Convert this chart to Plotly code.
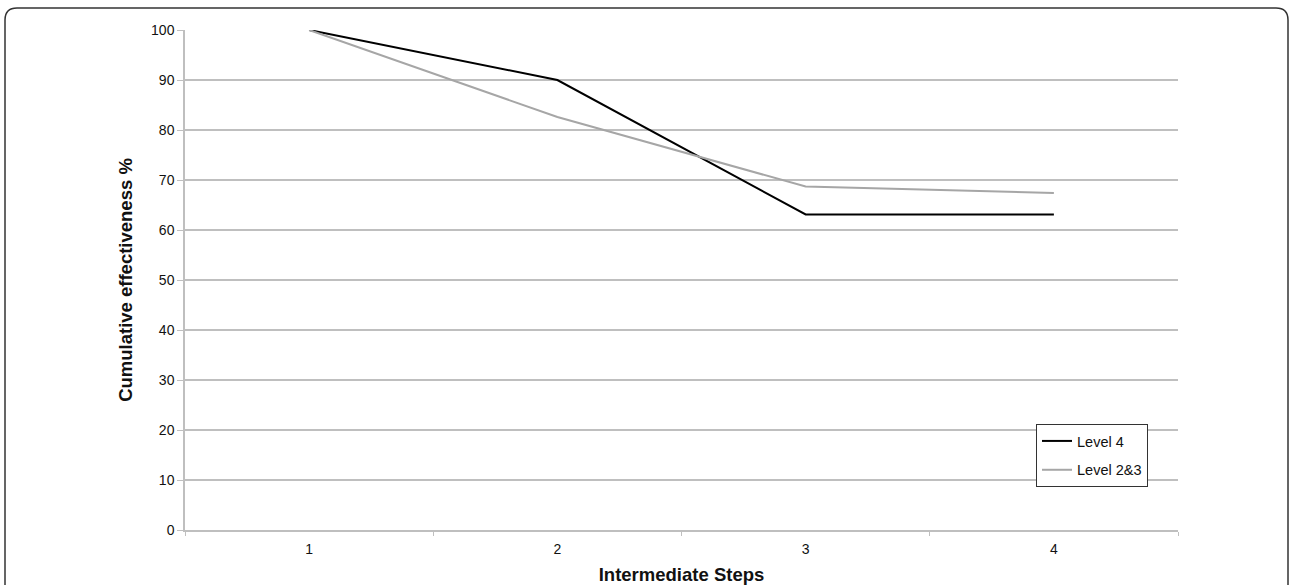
import plotly.graph_objects as go

steps = ["1", "2", "3", "4"]
level4 = [100, 90, 63.1, 63.1]
level23 = [100, 82.6, 68.7, 67.4]
y_ticks = [0, 10, 20, 30, 40, 50, 60, 70, 80, 90, 100]

W, H = 1290, 585
L, R, T, B = 185, 112, 30, 55
pw, ph = W - L - R, H - T - B

def px(x):
    return (x - L) / pw

def py(y):
    return (H - B - y) / ph

fig = go.Figure()
fig.add_trace(go.Scatter(x=steps, y=level4, mode="lines", name="Level 4", legendgroup="a",
                         line=dict(color="#000000", width=2)))
fig.add_trace(go.Scatter(x=steps, y=level23, mode="lines", name="Level 2&3", legendgroup="b",
                         line=dict(color="#a6a6a6", width=2)))

# rounded outer frame (cut off at right and bottom)
r = 12
path = (f"M {px(5)} {py(600)} L {px(5)} {py(8+r)} Q {px(5)} {py(8)} {px(5+r)} {py(8)} "
        f"L {px(1288-r)} {py(8)} Q {px(1288)} {py(8)} {px(1288)} {py(8+r)} L {px(1288)} {py(600)}")
fig.add_shape(type="path", path=path, xref="paper", yref="paper",
              line=dict(color="#333333", width=1.5), layer="above")

fig.update_layout(
    width=W, height=H,
    margin=dict(l=L, r=R, t=T, b=B),
    paper_bgcolor="white", plot_bgcolor="white",
    font=dict(family="Liberation Sans, Arial, sans-serif", size=14, color="#111111"),
    showlegend=True,
    legend=dict(x=px(1036), y=py(424), xanchor="left", yanchor="top",
                bgcolor="white", bordercolor="#333333", borderwidth=1,
                font=dict(size=14.5, color="#111111"), itemwidth=30,
                traceorder="grouped", tracegroupgap=7),
    xaxis=dict(type="category", categoryorder="array", categoryarray=steps,
               range=[-0.5, 3.5], tickson="boundaries", ticks="outside", ticklen=4,
               tickcolor="#bfbfbf", showline=True, linecolor="#bfbfbf", linewidth=1.5,
               showgrid=False, zeroline=False, ticklabelstandoff=5, automargin=False,
               title=dict(text="<b>Intermediate Steps</b>", font=dict(size=18.5, color="#111111"),
                          standoff=16)),
    yaxis=dict(range=[0, 100], tickvals=y_ticks, ticks="outside", ticklen=6,
               tickcolor="#bfbfbf", showline=True, linecolor="#bfbfbf", linewidth=1.5,
               showgrid=True, gridcolor="#bfbfbf", gridwidth=1.5, zeroline=False,
               automargin=False,
               title=dict(text="<b>Cumulative effectiveness %</b>", font=dict(size=18.5, color="#111111"),
                          standoff=14)),
)

fig.write_html("out.html", config={"displayModeBar": False},
               post_script="document.body.style.margin='0px';document.body.style.padding='0px';")
